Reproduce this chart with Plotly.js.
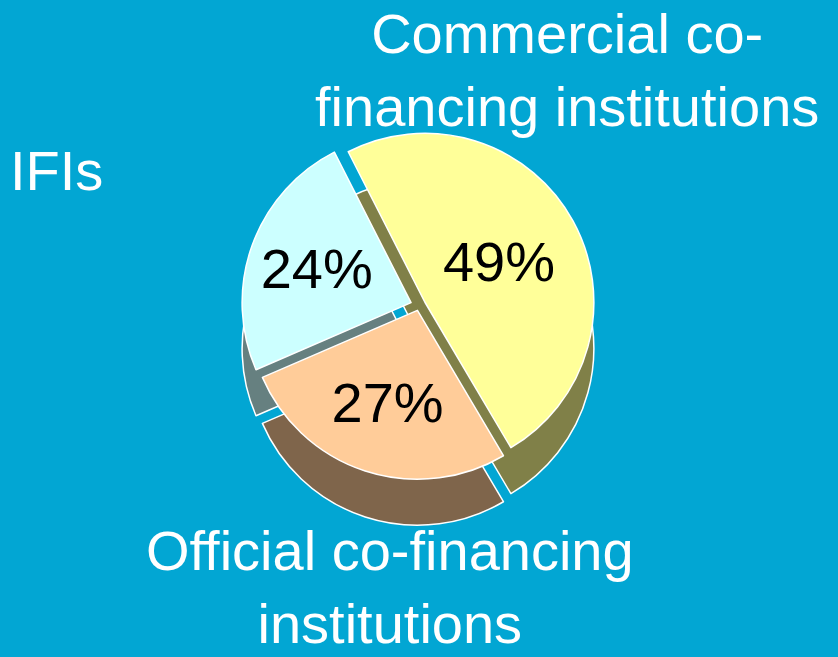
<!DOCTYPE html>
<html>
<head>
<meta charset="utf-8">
<script src="https://cdn.plot.ly/plotly-3.0.1.min.js"></script>
<style>html,body{margin:0;padding:0;background:#02A6D3;}#chart{width:838px;height:657px;}</style>
</head>
<body>
<div id="chart"></div>
<script>
// Data
var categories = ["Commercial co-financing institutions", "Official co-financing institutions", "IFIs"];
var displayLabels = ["Commercial co-<br>financing institutions", "Official co-financing<br>institutions", "IFIs"];
var values = [49, 27, 24];
var topColors = ["#FFFF99", "#FFCC99", "#CCFFFF"];
var sideColors = ["#808048", "#7F654B", "#668080"];
var pulls = [0.04, 0.03, 0.05];

var sideTrace = {
  type: "pie", labels: categories, values: values, sort: false,
  direction: "clockwise", rotation: -27, pull: pulls,
  marker: {colors: sideColors, line: {color: "#FFFFFF", width: 1.5}},
  textinfo: "none", hoverinfo: "skip", showlegend: false,
  domain: {x: [0.27, 0.73], y: [0.195, 0.735]}
};
var topTrace = {
  type: "pie", labels: categories, values: values, sort: false,
  direction: "clockwise", rotation: -27, pull: pulls,
  marker: {colors: topColors, line: {color: "#FFFFFF", width: 1.5}},
  textinfo: "percent", textposition: "inside", insidetextorientation: "horizontal",
  texttemplate: "%{value}%",
  insidetextfont: {family: "Liberation Sans, Arial, sans-serif", size: 56, color: "#000000"},
  hoverinfo: "skip", showlegend: false,
  domain: {x: [0.27, 0.73], y: [0.265, 0.805]}
};

var annFont = {family: "Liberation Sans, Arial, sans-serif", size: 56, color: "#FFFFFF"};
var layout = {
  width: 838, height: 657,
  margin: {l: 0, r: 0, t: 0, b: 0},
  paper_bgcolor: "#02A6D3", plot_bgcolor: "#02A6D3",
  showlegend: false,
  annotations: [
    {text: displayLabels[0], x: 0.677, y: 1.0, xref: "paper", yref: "paper", xanchor: "center", yanchor: "top", showarrow: false, font: annFont, align: "center"},
    {text: displayLabels[1], x: 0.465, y: 0.0, xref: "paper", yref: "paper", xanchor: "center", yanchor: "bottom", showarrow: false, font: annFont, align: "center"},
    {text: displayLabels[2], x: 0.01, y: 0.741, xref: "paper", yref: "paper", xanchor: "left", yanchor: "middle", showarrow: false, font: annFont, align: "left"}
  ]
};
Plotly.newPlot("chart", [sideTrace, topTrace], layout, {displayModeBar: false, staticPlot: true});
</script>
</body>
</html>
